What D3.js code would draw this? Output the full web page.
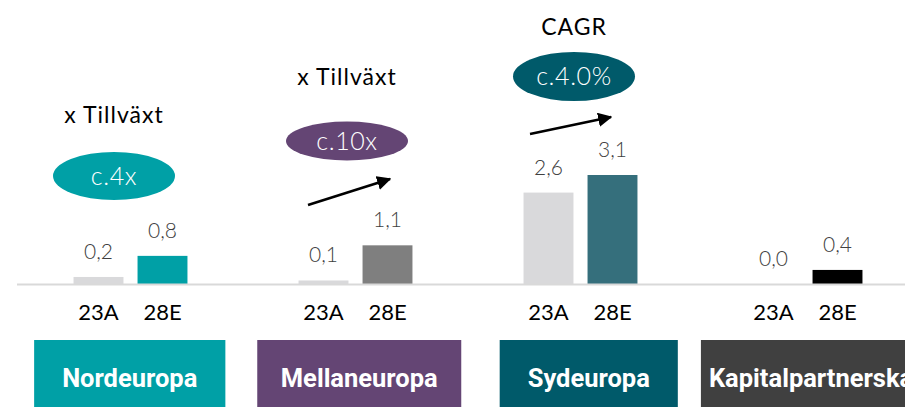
<!DOCTYPE html>
<html>
<head>
<meta charset="utf-8">
<script src="https://cdn.jsdelivr.net/npm/d3@7"></script>
<style>
  body { margin: 0; background: #fff; }
  text { font-family: Lato, "Open Sans", sans-serif; }
</style>
</head>
<body>
<div id="canvas"></div>
<script>
"use strict"

/* Size of the canvas */
let svgWidth = 905;
let svgHeight = 407;
let baseY = 284;

/* Data */
let regions = ["Nordeuropa", "Mellaneuropa", "Sydeuropa", "Kapitalpartnerskap"];
let years = ["23A", "28E"];
let values23 = [0.2, 0.1, 2.6, 0.0];
let values28 = [0.8, 1.1, 3.1, 0.4];
let growthTitles = ["x Tillväxt", "x Tillväxt", "CAGR", ""];
let growthLabels = ["c.4x", "c.10x", "c.4.0%", ""];

/* Colours */
let regionColors = ["#00a0a6", "#644574", "#005a6a", "#404040"];
let bar28Colors = ["#00a0a6", "#7f7f7f", "#356f7c", "#000000"];
let bar23Color = "#d9d9db";

let svg = d3.select("#canvas")
    .append("svg")
    .attr("width", svgWidth)
    .attr("height", svgHeight);

/* Scales */
let xScale = d3.scaleBand()
    .domain(regions)
    .range([18, 918]);

/* the region boxes sit on a slightly wider grid than the bars */
let boxScale = d3.scaleBand()
    .domain(regions)
    .range([15, 933]);

let innerScale = d3.scaleBand()
    .domain(years)
    .range([-64, 64])
    .paddingInner(0.22)
    .paddingOuter(0.11);

let yScale = d3.scaleLinear()
    .domain([0, 3.1])
    .range([baseY, baseY - 109]);

function center(r) {
    return xScale(r) + xScale.bandwidth() / 2;
}

/* Build rows of bars */
let rows = [];
regions.forEach(function (r, i) {
    rows.push({ region: r, year: "23A", value: values23[i], color: bar23Color });
    rows.push({ region: r, year: "28E", value: values28[i], color: bar28Colors[i] });
});

svg.selectAll("rect.bar")
    .data(rows)
    .join("rect")
    .attr("class", "bar")
    .attr("x", function (d) { return center(d.region) + innerScale(d.year); })
    .attr("width", innerScale.bandwidth())
    .attr("y", function (d) { return yScale(d.value); })
    .attr("height", function (d) { return baseY - yScale(d.value); })
    .attr("fill", function (d) { return d.color; });

/* Baseline */
svg.append("line")
    .attr("x1", 17)
    .attr("x2", svgWidth)
    .attr("y1", baseY + 0.5)
    .attr("y2", baseY + 0.5)
    .attr("stroke", "#d9d9d9")
    .attr("stroke-width", 2);

/* Value labels */
svg.selectAll("text.value")
    .data(rows)
    .join("text")
    .attr("class", "value")
    .attr("x", function (d) { return center(d.region) + innerScale(d.year) + innerScale.bandwidth() / 2; })
    .attr("y", function (d) { return yScale(d.value) - 18; })
    .attr("text-anchor", "middle")
    .attr("fill", "#404040")
    .style("font-size", "21px")
    .style("font-weight", "300")
    .text(function (d) { return d3.format(".1f")(d.value).replace(".", ","); });

/* Year labels */
svg.selectAll("text.year")
    .data(rows)
    .join("text")
    .attr("class", "year")
    .attr("x", function (d) { return center(d.region) + innerScale(d.year) + innerScale.bandwidth() / 2; })
    .attr("y", 320)
    .attr("text-anchor", "middle")
    .attr("fill", "#000")
    .style("font-size", "22px")
    .text(function (d) { return d.year; });

/* Region boxes */
regions.forEach(function (r, i) {
    let cx = boxScale(r) + boxScale.bandwidth() / 2;
    let g = svg.append("g");
    let box = g.append("rect")
        .attr("y", 340)
        .attr("height", 67)
        .attr("fill", regionColors[i]);
    let t = g.append("text")
        .attr("x", cx)
        .attr("y", 387)
        .attr("text-anchor", "middle")
        .attr("fill", "#fff")
        .style("font-family", "Roboto, sans-serif")
        .style("font-weight", "bold")
        .style("font-size", "25.5px")
        .text(r);
    let tw = t.node().getComputedTextLength();
    let w = Math.max(Math.min(tw + 56, 204), tw + 16);
    box.attr("x", cx - w / 2).attr("width", w);
});

/* Growth annotations */
let ellipsePos = [
    { cx: 114, cy: 176, rx: 61, ry: 24, ty: 123 },
    { cx: 347, cy: 141, rx: 61, ry: 19.5, ty: 85 },
    { cx: 574, cy: 76.5, rx: 61, ry: 24.5, ty: 35 }
];
let arrows = [
    null,
    { x1: 308, y1: 205, x2: 390, y2: 179 },
    { x1: 530, y1: 134, x2: 611, y2: 117 }
];

svg.append("defs").append("marker")
    .attr("id", "head")
    .attr("viewBox", "0 0 10 10")
    .attr("refX", 9)
    .attr("refY", 5)
    .attr("markerWidth", 5.5)
    .attr("markerHeight", 5.5)
    .attr("orient", "auto")
    .append("path")
    .attr("d", "M0,0 L10,5 L0,10 z")
    .attr("fill", "#000");

ellipsePos.forEach(function (p, i) {
    svg.append("text")
        .attr("x", p.cx)
        .attr("y", p.ty)
        .attr("text-anchor", "middle")
        .attr("fill", "#000")
        .style("font-size", "23px")
        .style("letter-spacing", "1px")
        .text(growthTitles[i]);
    svg.append("ellipse")
        .attr("cx", p.cx)
        .attr("cy", p.cy)
        .attr("rx", p.rx)
        .attr("ry", p.ry)
        .attr("fill", regionColors[i]);
    svg.append("text")
        .attr("x", p.cx)
        .attr("y", p.cy + 8.5)
        .attr("text-anchor", "middle")
        .attr("fill", "#fff")
        .style("font-size", "25px")
        .style("font-weight", "300")
        .style("letter-spacing", "0.6px")
        .text(growthLabels[i]);
    if (arrows[i]) {
        svg.append("line")
            .attr("x1", arrows[i].x1)
            .attr("y1", arrows[i].y1)
            .attr("x2", arrows[i].x2)
            .attr("y2", arrows[i].y2)
            .attr("stroke", "#000")
            .attr("stroke-width", 2.6)
            .attr("marker-end", "url(#head)");
    }
});
</script>
</body>
</html>
